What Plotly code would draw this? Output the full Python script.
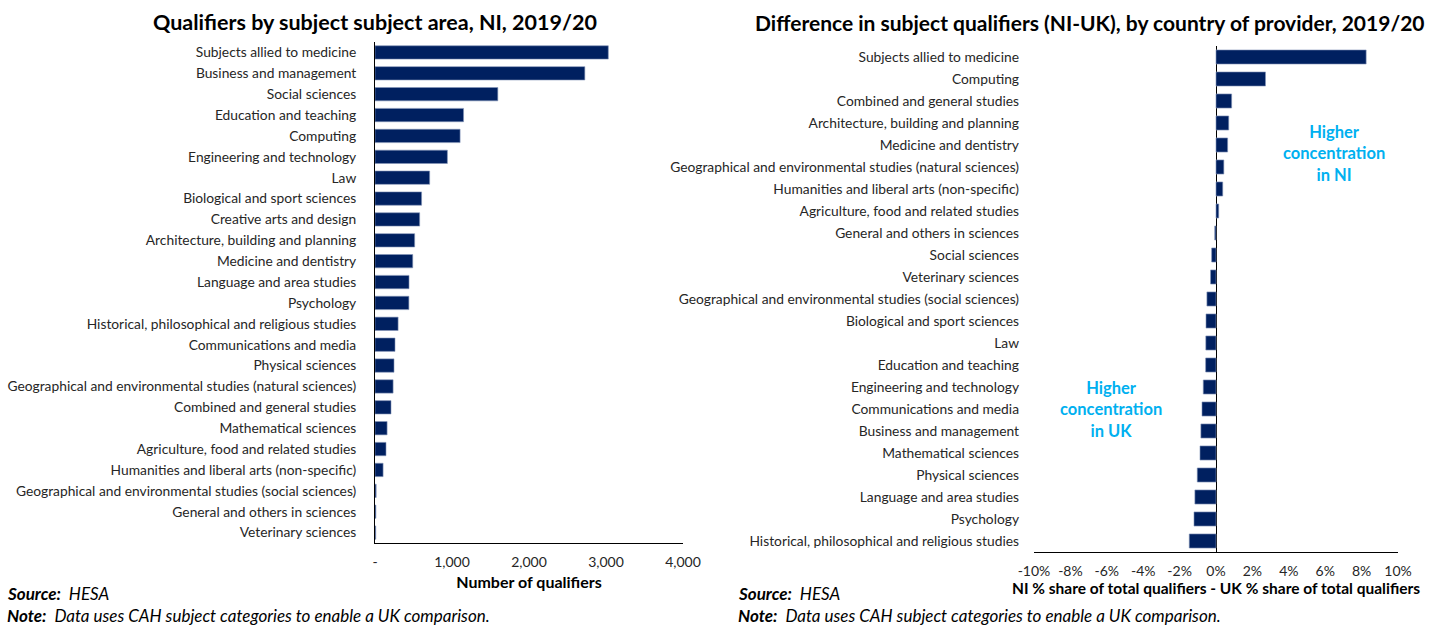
import plotly.graph_objects as go

# Qualifiers by subject area, NI, 2019/20
left_subjects = [
    "Subjects allied to medicine", "Business and management", "Social sciences",
    "Education and teaching", "Computing", "Engineering and technology", "Law",
    "Biological and sport sciences", "Creative arts and design",
    "Architecture, building and planning", "Medicine and dentistry",
    "Language and area studies", "Psychology",
    "Historical, philosophical and religious studies", "Communications and media",
    "Physical sciences", "Geographical and environmental studies (natural sciences)",
    "Combined and general studies", "Mathematical sciences",
    "Agriculture, food and related studies", "Humanities and liberal arts (non-specific)",
    "Geographical and environmental studies (social sciences)",
    "General and others in sciences", "Veterinary sciences",
]
left_counts = [3030, 2725, 1595, 1150, 1105, 940, 710, 605, 580, 515, 490, 442, 440,
               300, 260, 247, 235, 208, 157, 143, 105, 15, 12, 10]
left_ticks = [0, 1000, 2000, 3000, 4000]
left_ticktext = ["-", "1,000", "2,000", "3,000", "4,000"]

# Difference in share of qualifiers (NI minus UK), percentage points
right_subjects = [
    "Subjects allied to medicine", "Computing", "Combined and general studies",
    "Architecture, building and planning", "Medicine and dentistry",
    "Geographical and environmental studies (natural sciences)",
    "Humanities and liberal arts (non-specific)", "Agriculture, food and related studies",
    "General and others in sciences", "Social sciences", "Veterinary sciences",
    "Geographical and environmental studies (social sciences)",
    "Biological and sport sciences", "Law", "Education and teaching",
    "Engineering and technology", "Communications and media", "Business and management",
    "Mathematical sciences", "Physical sciences", "Language and area studies",
    "Psychology", "Historical, philosophical and religious studies",
]
right_diff = [8.25, 2.72, 0.86, 0.70, 0.64, 0.43, 0.37, 0.15, -0.07, -0.24, -0.30,
              -0.50, -0.55, -0.56, -0.57, -0.70, -0.77, -0.83, -0.88, -1.03, -1.16,
              -1.21, -1.47]
right_ticks = [-10, -8, -6, -4, -2, 0, 2, 4, 6, 8, 10]
right_ticktext = ["-10%", "-8%", "-6%", "-4%", "-2%", "0%", "2%", "4%", "6%", "8%", "10%"]

NAVY = "#002060"
CYAN = "#00B0F0"
FONT = "Lato"
TXT = "#262626"
W, H = 1443, 626

fig = go.Figure()
fig.add_trace(go.Bar(
    x=left_counts, y=left_subjects, orientation="h",
    marker=dict(color=NAVY, line=dict(color="#8496b8", width=0.6)),
    xaxis="x", yaxis="y", showlegend=False,
))
fig.add_trace(go.Bar(
    x=right_diff, y=right_subjects, orientation="h",
    marker=dict(color=NAVY, line=dict(color="#8496b8", width=0.6)),
    xaxis="x2", yaxis="y2", showlegend=False,
))

def px_x(p):
    return p / W

def px_y(p):
    return 1 - p / H

fig.update_layout(
    width=W, height=H,
    margin=dict(l=0, r=0, t=0, b=0, autoexpand=False),
    paper_bgcolor="white", plot_bgcolor="white",
    font=dict(family=FONT, size=14, color=TXT),
    bargap=0.36,
    xaxis=dict(
        domain=[px_x(375), px_x(683)], range=[0, 4000], automargin=False,
        tickvals=left_ticks, ticktext=left_ticktext,
        showgrid=False, zeroline=False, showline=True, linecolor="black", linewidth=1,
        ticks="", ticklabelstandoff=6, tickfont=dict(size=14, color=TXT),
        title=dict(text="<b>Number of qualifiers</b>", font=dict(size=16, color="black"),
                   standoff=8),
        anchor="y",
    ),
    yaxis=dict(
        domain=[px_y(543), px_y(42)], autorange="reversed", automargin=False,
        showgrid=False, zeroline=False, showline=True, linecolor="black", linewidth=1,
        ticks="", ticklabelstandoff=15, tickfont=dict(size=13.8, color=TXT),
        anchor="x",
    ),
    xaxis2=dict(
        domain=[px_x(1034), px_x(1398)], range=[-10, 10], automargin=False,
        tickvals=right_ticks, ticktext=right_ticktext,
        showgrid=False, zeroline=True, zerolinecolor="black", zerolinewidth=1,
        showline=True, linecolor="black", linewidth=1,
        ticks="", ticklabelstandoff=6, tickfont=dict(size=14, color=TXT),
        title=dict(text="<b>NI % share of total qualifiers - UK % share of total qualifiers</b>",
                   font=dict(size=15.5, color="black"), standoff=1),
        anchor="y2",
    ),
    yaxis2=dict(
        domain=[px_y(552), px_y(46)], autorange="reversed", automargin=False,
        showgrid=False, zeroline=False, showline=False,
        ticks="", ticklabelstandoff=14, tickfont=dict(size=13.8, color=TXT),
        anchor="x2",
    ),
)

annotations = [
    dict(text="<b>Qualifiers by subject subject area, NI, 2019/20</b>",
         x=px_x(375), y=px_y(22), font=dict(size=21.5, color="black")),
    dict(text="<b>Difference in subject qualifiers (NI-UK), by country of provider, 2019/20</b>",
         x=px_x(1090), y=px_y(22), font=dict(size=21, color="black")),
    dict(text="<b>Higher<br>concentration<br>in NI</b>",
         x=px_x(1334), y=px_y(153), font=dict(size=16.5, color=CYAN)),
    dict(text="<b>Higher<br>concentration<br>in UK</b>",
         x=px_x(1111), y=px_y(409), font=dict(size=16.5, color=CYAN)),
]
for x0 in (5, 736):
    annotations.append(dict(text="<b><i>Source:</i></b><i>  HESA</i>",
                            x=px_x(x0), y=px_y(593), xanchor="left",
                            font=dict(size=17, color="black")))
    annotations.append(dict(text="<b><i>Note:</i></b><i>  Data uses CAH subject categories to enable a UK comparison.</i>",
                            x=px_x(x0), y=px_y(615), xanchor="left",
                            font=dict(size=17, color="black")))
for a in annotations:
    a.setdefault("xanchor", "center")
    a.update(xref="paper", yref="paper", yanchor="middle", showarrow=False)
fig.update_layout(annotations=annotations)

fig.write_html("out.html")
